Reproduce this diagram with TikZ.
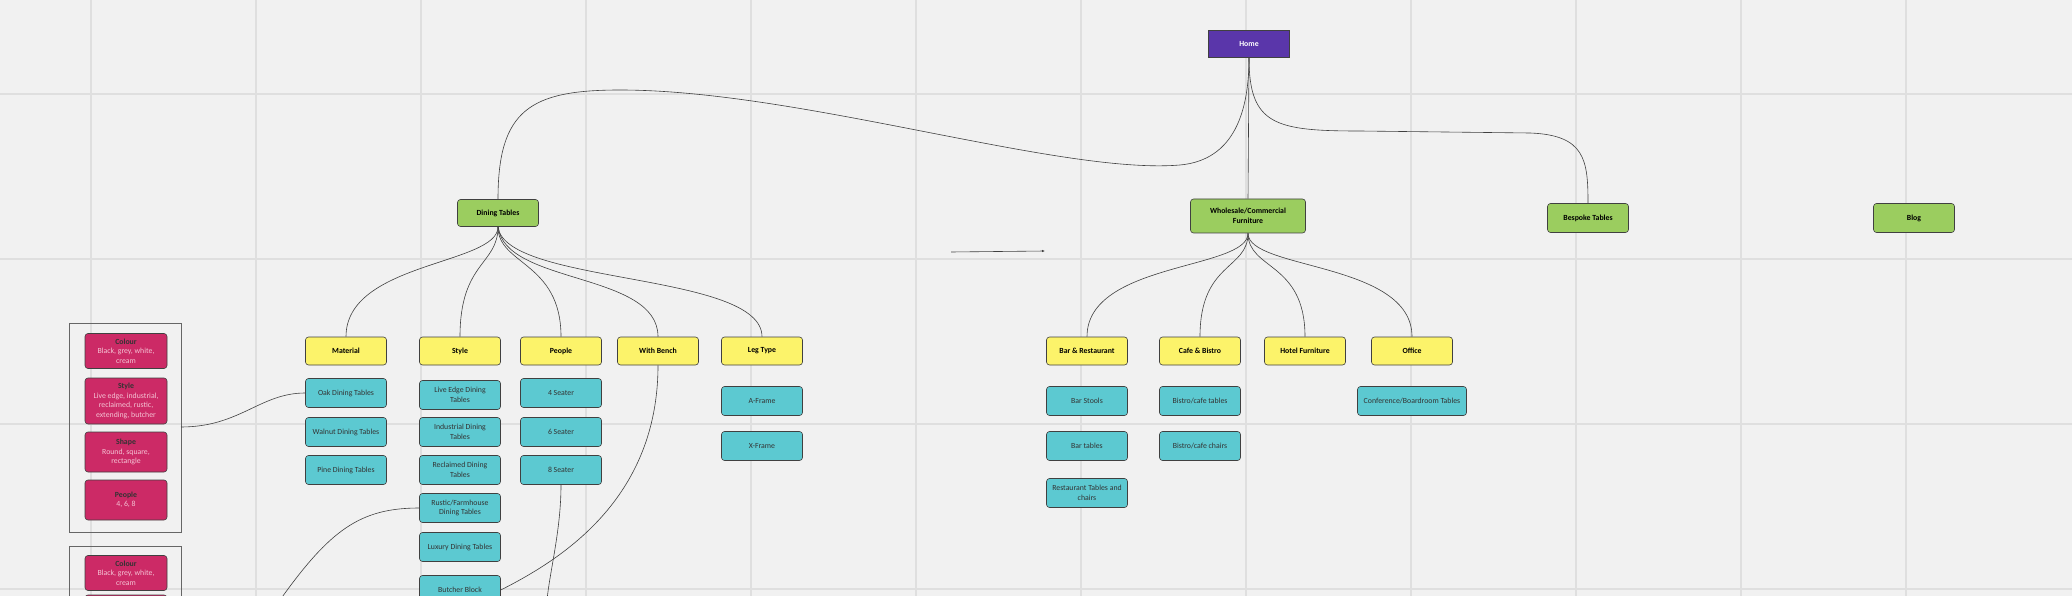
\documentclass[tikz,border=0pt]{standalone}
\usepackage{fontspec}
\usetikzlibrary{arrows.meta,calc}
\setmainfont{Carlito}
\definecolor{bg}{HTML}{F1F1F1}
\definecolor{gridc}{HTML}{DFDFDF}
\definecolor{purp}{HTML}{5A36AA}
\definecolor{grn}{HTML}{9BCD5F}
\definecolor{yel}{HTML}{FCF36A}
\definecolor{cya}{HTML}{5CC9D1}
\definecolor{pnk}{HTML}{CC2A66}
\definecolor{pnktxt}{HTML}{F4C3D4}
\tikzset{
 base/.style={draw=black!75, line width=0.6pt, rounded corners=3pt, align=center, inner sep=1pt, font=\fontsize{7.8}{9.5}\selectfont},
 homebox/.style={base, rounded corners=0pt, fill=purp, text=white, font=\fontsize{7.8}{9.5}\selectfont\bfseries, minimum width=81pt, minimum height=27pt},
 grnbox/.style={base, fill=grn, font=\fontsize{7.8}{9.5}\selectfont\bfseries, minimum width=81pt, minimum height=29pt},
 yelbox/.style={base, fill=yel, font=\fontsize{7.8}{9.5}\selectfont\bfseries, minimum width=81pt, minimum height=28pt},
 cyabox/.style={base, fill=cya, text=black!80, minimum width=81pt, minimum height=29pt},
 pnkbox/.style={base, fill=pnk, text=pnktxt, minimum width=82pt},
 grp/.style={draw=black!60, line width=0.7pt},
 conn/.style={draw=black!75, line width=0.6pt},
}
\newcommand{\pt}[1]{\textbf{\color{black!80}#1}}
\begin{document}
\begin{tikzpicture}[x=1pt,y=-1pt]
\useasboundingbox (0,0) rectangle (2072,596);
\fill[bg] (0,0) rectangle (2072,596);
\foreach \gx in {91,256,421,586,751,916,1081,1246,1411,1576,1741,1906}
  \draw[gridc, line width=1.2pt] (\gx,0) -- (\gx,596);
\foreach \gy in {94,259,424,589}
  \draw[gridc, line width=1.2pt] (0,\gy) -- (2072,\gy);

\begin{scope}
\clip (0,0) rectangle (2072,596);
% groups
\draw[grp] (69,323) rectangle (181,532);
\draw[grp] (69,546) rectangle (181,620);
\node[pnkbox, minimum height=35pt] (pc1) at (126,351) {\pt{Colour}\\Black, grey, white,\\cream};
\node[pnkbox, minimum height=46pt] (ps1) at (126,401) {\pt{Style}\\Live edge, industrial,\\reclaimed, rustic,\\extending, butcher};
\node[pnkbox, minimum height=40pt] (psh1) at (126,452) {\pt{Shape}\\Round, square,\\rectangle};
\node[pnkbox, minimum height=40pt] (pp1) at (126,500) {\pt{People}\\4, 6, 8};
\node[pnkbox, minimum height=35pt] (pc2) at (126,573) {\pt{Colour}\\Black, grey, white,\\cream};
\draw[base, fill=pnk] (85,595) rectangle (167,640);
\coordinate (grp1e) at (181,427);
\coordinate (grp2a) at (280,600);

\node[homebox] (home) at (1249,44) {Home};
\node[grnbox, minimum height=27pt] (dining) at (498,213) {Dining Tables};
\node[grnbox, minimum width=115pt, minimum height=34pt] (whole) at (1248,216) {Wholesale/Commercial\\Furniture};
\node[grnbox] (bespoke) at (1588,218) {Bespoke Tables};
\node[grnbox] (blog) at (1914,218) {Blog};

\node[yelbox] (material) at (346,351) {Material};
\node[yelbox] (style) at (460,351) {Style};
\node[yelbox] (people) at (561,351) {People};
\node[yelbox] (bench) at (658,351) {With Bench};
\node[yelbox] (leg) at (762,351) {Leg Type};

\node[cyabox] (oak) at (346,393) {Oak Dining Tables};
\node[cyabox] (walnut) at (346,432) {Walnut Dining Tables};
\node[cyabox] (pine) at (346,470) {Pine Dining Tables};
\node[cyabox] (live) at (460,395) {Live Edge Dining\\Tables};
\node[cyabox] (indus) at (460,432) {Industrial Dining\\Tables};
\node[cyabox] (recl) at (460,470) {Reclaimed Dining\\Tables};
\node[cyabox] (rustic) at (460,508) {Rustic/Farmhouse\\Dining Tables};
\node[cyabox] (luxury) at (460,547) {Luxury Dining Tables};
\node[cyabox] (butcher) at (460,590) {Butcher Block};
\node[cyabox] (s4) at (561,393) {4 Seater};
\node[cyabox] (s6) at (561,432) {6 Seater};
\node[cyabox] (s8) at (561,470) {8 Seater};
\node[cyabox] (aframe) at (762,401) {A-Frame};
\node[cyabox] (xframe) at (762,446) {X-Frame};
\coordinate (s8end) at (547,600);

\node[yelbox] (bar) at (1087,351) {Bar \& Restaurant};
\node[yelbox] (cafe) at (1200,351) {Cafe \& Bistro};
\node[yelbox] (hotel) at (1305,351) {Hotel Furniture};
\node[yelbox] (office) at (1412,351) {Office};
\node[cyabox] (stools) at (1087,401) {Bar Stools};
\node[cyabox] (bartab) at (1087,446) {Bar tables};
\node[cyabox] (resttab) at (1087,493) {Restaurant Tables and\\chairs};
\node[cyabox] (bistab) at (1200,401) {Bistro/cafe tables};
\node[cyabox] (bischair) at (1200,446) {Bistro/cafe chairs};
\node[cyabox, minimum width=109pt] (conf) at (1412,401) {Conference/Boardroom Tables};

\coordinate (arra) at (951,252);
\coordinate (arrb) at (1045,251);

% connectors
\draw[conn] (dining.north) .. controls (498,110) and (530,90) .. (620,90)
  .. controls (800,90) and (1060,175) .. (1180,165)
  .. controls (1235,160) and (1249,110) .. (home.south);
\draw[conn] (home.south) -- (whole.north);
\draw[conn] (home.south) .. controls (1249,125) and (1275,131) .. (1360,131)
  -- (1530,133) .. controls (1585,135) and (1588,160) .. (bespoke.north);
\draw[conn, -{Latex[length=3pt,width=2.5pt]}] (arra) -- (arrb);

\foreach \t in {material,style,people}
  \draw[conn] (dining.south) .. controls (498,265) and ($(\t.north)+(0,-75)$) .. (\t.north);
\foreach \t in {bench,leg}
  \draw[conn] (dining.south) .. controls (505,285) and ($(\t.north)+(0,-65)$) .. (\t.north);
\foreach \t in {bar,cafe,hotel,office}
  \draw[conn] (whole.south) .. controls (1248,270) and ($(\t.north)+(0,-75)$) .. (\t.north);

\draw[conn] (grp1e) .. controls (240,427) and (260,393) .. (oak.west);
\draw[conn] (rustic.west) .. controls (360,508) and (330,530) .. (grp2a);
\draw[conn] (bench.south) .. controls (658,500) and (560,560) .. (butcher.east);
\draw[conn] (s8.south) .. controls (561,530) and (550,570) .. (s8end);
\end{scope}
\end{tikzpicture}
\end{document}
